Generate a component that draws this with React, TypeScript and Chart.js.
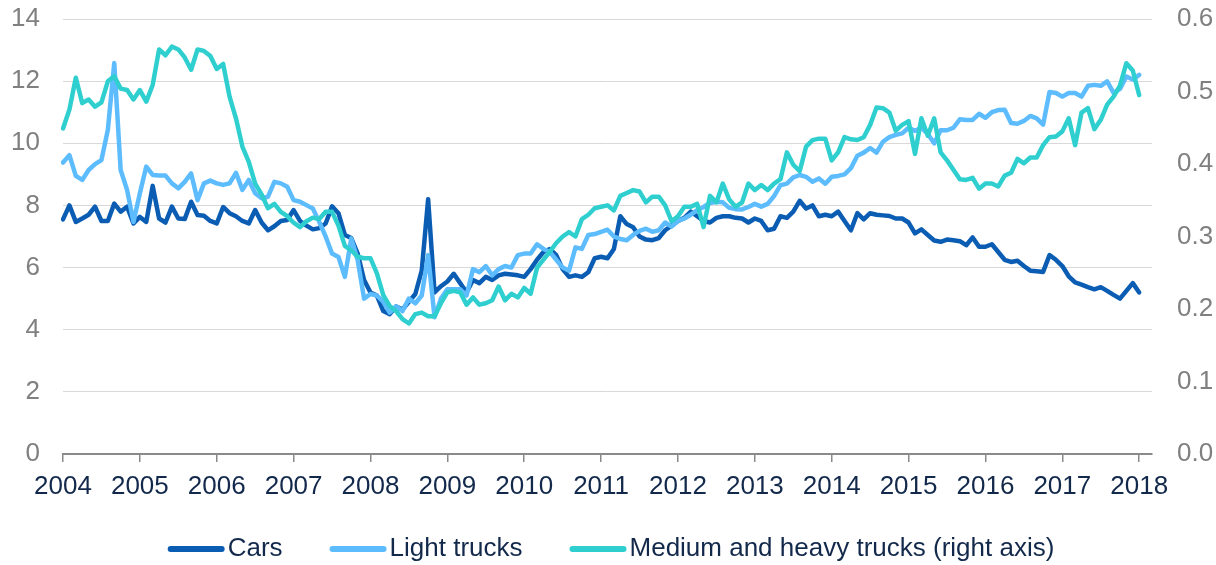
import React, { useEffect, useRef } from 'react';
import { Chart, registerables } from 'chart.js';

Chart.register(...registerables);

// Years on the axis and month codes used to build monthly categories (Jan 2004 - Mar 2018)
const years = [2004, 2005, 2006, 2007, 2008, 2009, 2010, 2011, 2012, 2013, 2014, 2015, 2016, 2017, 2018];
const monthCodes = ['01', '02', '03', '04', '05', '06', '07', '08', '09', '10', '11', '12'];
const lastYearMonths = ['01', '02', '03'];

// Cars (left axis), monthly Jan 2004 - Jan 2018
const cars = [
  7.55, 8.0, 7.47, 7.58, 7.7, 7.96, 7.5, 7.5, 8.06, 7.8, 7.96, 7.42,
  7.63, 7.47, 8.63, 7.58, 7.45, 7.96, 7.58, 7.56, 8.12, 7.69, 7.67, 7.5,
  7.42, 7.95, 7.75, 7.65, 7.5, 7.42, 7.85, 7.45, 7.2, 7.33, 7.5, 7.53,
  7.85, 7.5, 7.35, 7.23, 7.27, 7.42, 7.97, 7.75, 7.05, 6.95, 6.45, 5.6,
  5.2, 5.1, 4.6, 4.5, 4.75, 4.65, 4.9, 5.15, 5.9, 8.2, 5.2, 5.4,
  5.55, 5.8, 5.5, 5.2, 5.6, 5.5, 5.7, 5.6, 5.75, 5.8, 5.78, 5.75,
  5.7, 5.95, 6.25, 6.5, 6.6, 6.4, 5.95, 5.7, 5.75, 5.7, 5.85, 6.3,
  6.35, 6.3, 6.6, 7.65, 7.4, 7.3, 7.0, 6.9, 6.88, 6.95, 7.2, 7.35,
  7.5, 7.6, 7.8, 7.65, 7.5, 7.45, 7.6, 7.65, 7.65, 7.6, 7.58, 7.45,
  7.58, 7.5, 7.2, 7.25, 7.65, 7.6, 7.8, 8.15, 7.9, 8.0, 7.65, 7.7,
  7.65, 7.8, 7.5, 7.2, 7.75, 7.55, 7.75, 7.7, 7.68, 7.66, 7.58, 7.58,
  7.45, 7.1, 7.23, 7.05, 6.87, 6.83, 6.9, 6.88, 6.85, 6.72, 6.97, 6.67,
  6.67, 6.75, 6.5, 6.25, 6.18, 6.22, 6.05, 5.9, 5.88, 5.86, 6.4, 6.25,
  6.05, 5.72, 5.52, 5.45, 5.37, 5.3, 5.37, 5.25, 5.12, 5.0, 5.25, 5.5,
  5.2,
];

// Light trucks (left axis)
const lightTrucks = [
  9.38, 9.62, 8.95, 8.82, 9.14, 9.33, 9.46, 10.43, 12.58, 9.14, 8.5, 7.47,
  8.39, 9.25, 8.98, 8.96, 8.96, 8.71, 8.55, 8.76, 9.03, 8.17, 8.71, 8.8,
  8.71, 8.66, 8.71, 9.05, 8.5, 8.82, 8.39, 8.23, 8.28, 8.76, 8.71, 8.6,
  8.17, 8.12, 8.01, 7.9, 7.47, 7.0, 6.45, 6.34, 5.7, 6.94, 6.24, 5.0,
  5.15, 5.1, 4.9, 4.55, 4.75, 4.6, 5.0, 4.85, 5.1, 6.4, 4.4, 5.0,
  5.3, 5.3, 5.3, 5.1, 5.95, 5.85, 6.05, 5.75, 5.95, 6.05, 6.0, 6.4,
  6.45, 6.45, 6.75, 6.6, 6.5, 6.25, 6.0, 5.9, 6.65, 6.6, 7.05, 7.08,
  7.15, 7.22, 7.0, 6.92, 6.88, 7.05, 7.18, 7.25, 7.15, 7.2, 7.45, 7.32,
  7.5, 7.58, 7.7, 7.85, 7.95, 8.08, 8.12, 8.1, 7.92, 7.88, 7.87, 7.95,
  8.05, 7.96, 8.05, 8.3, 8.65, 8.7, 8.9, 8.98, 8.92, 8.76, 8.87, 8.7,
  8.92, 8.95, 9.0, 9.2, 9.6, 9.7, 9.85, 9.7, 10.05, 10.2, 10.27, 10.32,
  10.5, 10.4, 10.5, 10.3, 10.0, 10.42, 10.42, 10.5, 10.77, 10.75, 10.75, 10.95,
  10.82, 11.0, 11.07, 11.08, 10.65, 10.63, 10.72, 10.88, 10.8, 10.6, 11.65, 11.62,
  11.5, 11.62, 11.62, 11.5, 11.85, 11.88, 11.85, 11.99, 11.62, 11.75, 12.15, 12.05,
  12.2,
];

// Medium and heavy trucks (right axis)
const mediumHeavyTrucks = [
  0.449, 0.475, 0.519, 0.484, 0.489, 0.479, 0.485, 0.514, 0.521, 0.504, 0.502, 0.489,
  0.502, 0.486, 0.509, 0.558, 0.550, 0.562, 0.558, 0.547, 0.530, 0.558, 0.556, 0.549,
  0.531, 0.538, 0.493, 0.463, 0.424, 0.403, 0.373, 0.358, 0.339, 0.345, 0.334, 0.328,
  0.319, 0.313, 0.321, 0.326, 0.324, 0.334, 0.334, 0.315, 0.287, 0.281, 0.272, 0.270,
  0.270, 0.249, 0.219, 0.204, 0.197, 0.186, 0.180, 0.193, 0.195, 0.190, 0.190, 0.208,
  0.223, 0.225, 0.223, 0.206, 0.216, 0.206, 0.208, 0.212, 0.231, 0.212, 0.221, 0.216,
  0.229, 0.221, 0.257, 0.268, 0.279, 0.291, 0.300, 0.306, 0.300, 0.324, 0.330, 0.339,
  0.341, 0.343, 0.336, 0.356, 0.360, 0.364, 0.362, 0.347, 0.355, 0.355, 0.343, 0.321,
  0.328, 0.341, 0.341, 0.345, 0.313, 0.356, 0.347, 0.373, 0.351, 0.341, 0.347, 0.373,
  0.364, 0.371, 0.364, 0.373, 0.379, 0.416, 0.399, 0.390, 0.424, 0.433, 0.435, 0.435,
  0.405, 0.416, 0.437, 0.434, 0.433, 0.437, 0.454, 0.478, 0.477, 0.471, 0.446, 0.454,
  0.459, 0.414, 0.463, 0.439, 0.463, 0.416, 0.405, 0.392, 0.379, 0.378, 0.381, 0.366,
  0.373, 0.373, 0.369, 0.384, 0.388, 0.407, 0.401, 0.409, 0.409, 0.426, 0.437, 0.438,
  0.445, 0.463, 0.426, 0.471, 0.477, 0.448, 0.461, 0.482, 0.493, 0.508, 0.539, 0.529,
  0.495,
];

const seriesNames = ['Cars', 'Light trucks', 'Medium and heavy trucks (right axis)'];
const seriesColors = ['#0b5db3', '#5cbcfe', '#2fcfcf'];

const leftAxis = { min: 0, max: 14, step: 2 };
const rightAxis = { min: 0, max: 0.6, step: 0.1 };

const FONT = "'Liberation Sans', Arial, Helvetica, sans-serif";
const NAVY = '#13294b';
const GRAY = '#808080';

function buildCategories(): string[] {
  const out: string[] = [];
  years.forEach((y) => {
    const months = y === years[years.length - 1] ? lastYearMonths : monthCodes;
    months.forEach((m) => out.push(`${y}-${m}`));
  });
  return out;
}

// Legend drawn under the axis: line swatch, then label, items centred
const bottomLegend = {
  id: 'bottomLegend',
  afterDraw(chart: any) {
    const ctx = chart.ctx as CanvasRenderingContext2D;
    const y = 549;
    const swatchLen = 51; // plus round caps of 3px each side
    const capPad = 3;
    const textGap = 3;
    const itemGap = 47;
    ctx.save();
    ctx.font = `26px ${FONT}`;
    const items = chart.data.datasets.map((ds: any) => ({
      label: ds.label as string,
      color: ds.borderColor as string,
      w: ctx.measureText(ds.label).width,
    }));
    const total = items.reduce(
      (s: number, it: any) => s + capPad * 2 + swatchLen + textGap + it.w,
      0
    ) + itemGap * (items.length - 1);
    let x = 611 - total / 2;
    items.forEach((it: any) => {
      ctx.strokeStyle = it.color;
      ctx.lineWidth = 6;
      ctx.lineCap = 'round';
      ctx.beginPath();
      ctx.moveTo(x + capPad, y);
      ctx.lineTo(x + capPad + swatchLen, y);
      ctx.stroke();
      x += capPad * 2 + swatchLen + textGap;
      ctx.fillStyle = NAVY;
      ctx.textAlign = 'left';
      ctx.textBaseline = 'middle';
      ctx.fillText(it.label, x, y);
      x += it.w + itemGap;
    });
    ctx.restore();
  },
};

export default function App() {
  const canvasRef = useRef<HTMLCanvasElement | null>(null);

  useEffect(() => {
    const canvas = canvasRef.current;
    if (!canvas) return;
    const categories = buildCategories();
    const seriesData = [cars, lightTrucks, mediumHeavyTrucks];

    const fixVertical = (w: number) => (scale: any) => {
      scale.width = w;
      scale.paddingTop = 0;
      scale.paddingBottom = 0;
    };

    const chart = new Chart(canvas, {
      type: 'line',
      data: {
        labels: categories,
        datasets: seriesData.map((d, i) => ({
          label: seriesNames[i],
          data: d,
          borderColor: seriesColors[i],
          backgroundColor: seriesColors[i],
          borderWidth: 4.5,
          pointRadius: 0,
          pointHoverRadius: 0,
          tension: 0,
          borderCapStyle: 'round' as const,
          borderJoinStyle: 'round' as const,
          fill: false,
          yAxisID: i === 2 ? 'yRight' : 'y',
          order: 3 - i,
        })),
      },
      options: {
        animation: false,
        responsive: false,
        maintainAspectRatio: false,
        layout: { padding: { top: 19, bottom: 53.8, left: 0, right: 0 } },
        plugins: {
          tooltip: { enabled: false },
          legend: { display: false },
        },
        scales: {
          x: {
            type: 'category',
            offset: false,
            grid: {
              display: true,
              drawOnChartArea: false,
              drawTicks: true,
              tickLength: 8,
              color: '#8a8a8a',
              lineWidth: 1.5,
            },
            border: { display: true, color: '#8a8a8a', width: 2 },
            afterBuildTicks: (scale: any) => {
              scale.ticks = scale.ticks.filter((t: any) => t.value % 12 === 0);
            },
            afterFit: (scale: any) => {
              scale.paddingLeft = 0;
              scale.paddingRight = 0;
            },
            ticks: {
              autoSkip: false,
              maxRotation: 0,
              minRotation: 0,
              padding: 9,
              color: NAVY,
              font: { family: FONT, size: 26 },
              callback: function (this: any, value: any) {
                const lab = String(this.getLabelForValue(value));
                return lab.slice(0, 4);
              },
            },
          },
          y: {
            position: 'left',
            min: leftAxis.min,
            max: leftAxis.max,
            afterFit: fixVertical(63),
            grid: { color: '#d9d9d9', lineWidth: 1, drawTicks: false },
            border: { display: false },
            ticks: {
              stepSize: leftAxis.step,
              padding: 23,
              color: GRAY,
              font: { family: FONT, size: 26 },
            },
          },
          yRight: {
            position: 'right',
            min: rightAxis.min,
            max: rightAxis.max,
            afterFit: fixVertical(64),
            grid: { drawOnChartArea: false, drawTicks: false },
            border: { display: false },
            ticks: {
              stepSize: rightAxis.step,
              padding: 25,
              color: GRAY,
              font: { family: FONT, size: 26 },
              callback: (v: any) => Number(v).toFixed(1),
            },
          },
        },
      },
      plugins: [bottomLegend],
    });

    return () => {
      chart.destroy();
    };
  }, []);

  return (
    <div style={{ position: 'absolute', left: 0, top: 0, width: 1216, height: 565, background: '#fff' }}>
      <canvas ref={canvasRef} width={1216} height={565} style={{ display: 'block', width: 1216, height: 565 }} />
    </div>
  );
}
